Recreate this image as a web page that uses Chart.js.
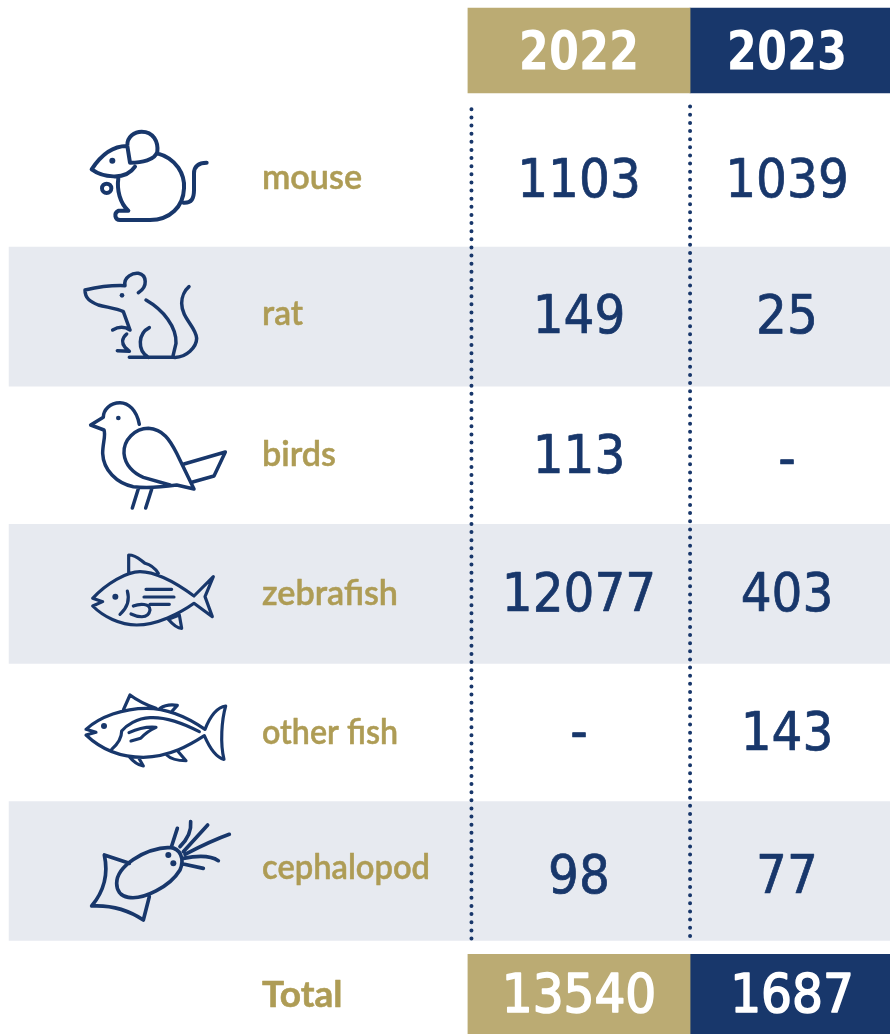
<!DOCTYPE html>
<html>
<head>
<meta charset="utf-8">
<style>
  html, body { margin: 0; padding: 0; background: #fff; }
  canvas { display: block; }
</style>
<script src="https://cdn.jsdelivr.net/npm/chart.js@4"></script>
</head>
<body>
<canvas id="table-chart" width="890" height="1034"></canvas>
<script>
const animals = ["mouse", "rat", "birds", "zebrafish", "other fish", "cephalopod"];
const years = ["2022", "2023"];
const values2022 = [1103, 149, 113, 12077, null, 98];
const values2023 = [1039, 25, null, 403, 143, 77];
const totals = [13540, 1687];

const GOLD = "#bbab73";
const LABEL_GOLD = "#ae9c55";
const NAVY = "#18376b";
const BAND = "#e7eaf0";
const NUM_FONT = '"DejaVu Sans Condensed", "DejaVu Sans", sans-serif';
const LABEL_FONT = 'Lato, "Noto Sans", sans-serif';

// columns and rows in table units: 2022 = 0, 2023 = 1, mouse = 0 ... cephalopod = 5
const HEADER_ROW = -0.92;
const TOTAL_ROW = 5.89;
const LABEL_COL = -1.524;
const COL_LEFT = -0.534, COL_MID = 0.534, COL_RIGHT = 1.495, BAND_LEFT = -2.74;

// small per row text shifts in px, the source table is not quite regular
const VALUE_NUDGE = [5, 2, 4, 3, 4, 8];
const VALUE_NUDGE_2023 = [5, 2, 8, 3, 4, 8];
const LABEL_NUDGE = [0, -3, 0, 0, 0, -3];
const LABEL_WIDTH = [100, 41, 74, 136, 136, 168];

// icon outlines, traced in a 3x crop of the row area
const ICONS = [
  { origin: 110, width: 12, dots: [[127, 152, 9]], path: "M170,108 C125,108 90,140 65,178 C95,200 165,215 195,170 M180,158 L172,108 C170,80 195,65 215,65 C250,65 265,95 262,125 C255,150 215,158 180,158 Z M124,235 A14,14 0 1 1 96,235 A14,14 0 1 1 124,235 Z M262,130 C320,145 345,195 342,235 C340,290 300,330 240,330 L150,330 C135,330 130,310 145,302 L175,302 M145,205 C140,240 150,280 175,302 M340,278 C365,280 372,265 372,240 L372,190 C372,170 385,158 410,158" },
  { origin: 110, width: 10.5, dots: [[156, 556, 7]], path: "M165,527 C120,525 80,532 45,540 C45,565 60,575 85,585 C110,592 140,595 160,605 L180,660 M165,527 C160,500 190,488 205,490 C230,495 235,530 205,548 M228,570 C280,600 320,650 318,700 L308,742 M238,653 C205,670 200,720 235,742 M178,742 L310,742 C350,745 380,710 380,685 C378,650 335,625 335,580 C335,560 345,540 357,530 M128,660 C145,650 165,650 180,660 M170,672 C155,685 155,700 165,712 L178,724 L142,722" },
  { origin: 390, width: 10.5, dots: [[145, 84, 7]], path: "M208,103 C200,60 175,38 150,38 C120,38 100,60 100,82 L62,105 L102,120 C108,135 98,160 98,190 C100,240 140,280 190,290 C230,295 270,292 320,285 L372,297 L320,190 C300,150 280,118 235,115 C195,115 160,150 162,190 C165,225 190,250 220,262 L300,285 M342,222 L466,186 L432,258 L368,276 M205,296 L187,354 M245,298 L227,354" },
  { origin: 390, width: 9.5, dots: [[136, 620, 9]], path: "M68,625 C110,580 170,545 210,545 C260,545 320,580 372,618 L430,560 L405,620 L427,680 L372,640 C330,670 260,705 200,705 C150,705 100,680 68,648 L98,635 Z M176,548 L176,495 C200,495 210,510 225,520 C245,525 255,535 265,550 M295,688 L328,675 L335,715 C320,715 305,700 295,688 M172,603 C180,630 170,655 150,673 M183,672 C200,680 235,690 240,660 C240,640 210,640 190,648 M228,598 L305,598 M222,621 L312,621 M240,643 L298,643" },
  { origin: 670, width: 9.5, dots: [[102, 168, 9]], path: "M48,178 C90,140 160,115 230,115 C290,115 350,140 405,178 C420,140 440,112 467,108 C455,150 450,220 462,268 C435,262 415,225 403,197 C360,225 300,260 220,262 C150,262 90,235 48,195 L78,187 Z M160,120 L180,75 C200,90 230,105 258,115 M270,115 C285,105 305,103 322,106 L305,125 M388,185 C340,160 290,140 240,143 C200,145 170,165 155,183 C155,205 140,225 125,238 M177,188 C205,175 235,170 258,172 C240,180 225,190 212,205 L183,213 M178,260 C190,275 205,285 220,288 L205,262 M290,255 C305,270 325,272 348,272 L325,245" },
  { origin: 670, width: 11, dots: [[295, 555, 9], [310, 580, 9]], path: "M140,640 C140,590 220,535 300,532 C330,535 345,565 330,600 C300,650 220,690 175,682 C150,678 140,660 140,640 Z M178,580 L103,555 C115,610 105,660 65,708 C120,705 175,720 220,750 L238,680 M305,528 L322,475 M330,530 C350,510 365,485 362,455 M340,545 L413,465 M345,553 C390,530 430,510 478,493 M340,565 C375,558 420,555 445,572 M340,582 L400,595" }
];

function band(row, from, to, color, thickness) {
  return { type: "bar", indexAxis: "y", grouped: false, order: 10, backgroundColor: color,
    barThickness: thickness, data: [{ x: [from, to], y: row }] };
}

function dotted(col, fromRow) {
  return { type: "line", order: 5, borderColor: NAVY, borderWidth: 4, borderCapStyle: "round",
    borderDash: [0, 8.13], pointRadius: 0, data: [{ x: col, y: fromRow }, { x: col, y: 5.5 }] };
}

// invisible points that carry the table cells, their text is drawn by the plugin below
function cells(points, style) {
  return Object.assign({ type: "scatter", order: 1, pointRadius: 0, data: points, cell: true,
    align: "center", stretch: 1, bold: 0 }, style);
}

const cellText = {
  id: "cellText",
  afterDatasetsDraw(chart) {
    const ctx = chart.ctx;
    chart.data.datasets.forEach((ds, i) => {
      if (!ds.cell) return;
      chart.getDatasetMeta(i).data.forEach((pt, j) => {
        const d = ds.data[j];
        ctx.save();
        ctx.translate(pt.x + (d.dx || 0), pt.y + (d.dy || 0));
        ctx.scale(ds.stretch, 1);
        ctx.font = ds.font;
        ctx.fillStyle = ds.color;
        ctx.textAlign = ds.align;
        ctx.textBaseline = "middle";
        ctx.fillText(d.text, 0, 0, d.maxWidth);
        if (ds.bold) {
          ctx.strokeStyle = ds.color;
          ctx.lineWidth = ds.bold;
          ctx.lineJoin = "round";
          ctx.strokeText(d.text, 0, 0, d.maxWidth);
        }
        ctx.restore();
      });
    });
  }
};

const iconDraw = {
  id: "iconDraw",
  afterDatasetsDraw(chart) {
    const ctx = chart.ctx;
    ICONS.forEach(icon => {
      ctx.save();
      ctx.translate(70, icon.origin);
      ctx.scale(1 / 3, 1 / 3);
      ctx.strokeStyle = NAVY;
      ctx.fillStyle = NAVY;
      ctx.lineWidth = icon.width;
      ctx.lineCap = "round";
      ctx.lineJoin = "round";
      ctx.stroke(new Path2D(icon.path));
      icon.dots.forEach(d => {
        ctx.beginPath();
        ctx.arc(d[0], d[1], d[2], 0, Math.PI * 2);
        ctx.fill();
      });
      ctx.restore();
    });
  }
};

const show = v => v === null ? "-" : String(v);
const valueStyle = { font: "54px " + NUM_FONT, color: NAVY, bold: 0.7 };

new Chart(document.getElementById("table-chart"), {
  type: "scatter",
  data: {
    datasets: [
      band(1, BAND_LEFT, COL_RIGHT, BAND, 139),
      band(3, BAND_LEFT, COL_RIGHT, BAND, 139),
      band(5, BAND_LEFT, COL_RIGHT, BAND, 139),
      band(HEADER_ROW, COL_LEFT, COL_MID, GOLD, 85),
      band(HEADER_ROW, COL_MID, COL_RIGHT, NAVY, 85),
      band(TOTAL_ROW, COL_LEFT, COL_MID, GOLD, 80),
      band(TOTAL_ROW, COL_MID, COL_RIGHT, NAVY, 80),
      dotted(-0.517, -0.496),
      dotted(COL_MID, -0.515),
      cells(values2022.map((v, i) => ({ x: 0, y: i, dy: VALUE_NUDGE[i], text: show(v) })), valueStyle),
      cells(values2023.map((v, i) => ({ x: 1, y: i, dy: VALUE_NUDGE_2023[i], text: show(v) })), valueStyle),
      cells(animals.map((a, i) => ({ x: LABEL_COL, y: i, dy: LABEL_NUDGE[i], maxWidth: LABEL_WIDTH[i], text: a })),
        { font: "600 35px " + LABEL_FONT, color: LABEL_GOLD, align: "left", bold: 0.5 }),
      cells([{ x: LABEL_COL, y: TOTAL_ROW, dy: 1, text: "Total" }],
        { font: "700 37px " + LABEL_FONT, color: LABEL_GOLD, align: "left", bold: 0.6 }),
      cells(years.map((y, i) => ({ x: i, y: HEADER_ROW, dy: 4, text: y })),
        { font: "bold 54px " + NUM_FONT, color: "#fff", stretch: 0.89 }),
      cells(totals.map((v, i) => ({ x: i, y: TOTAL_ROW, dy: 4, dx: i * 5, text: String(v) })),
        { font: "54px " + NUM_FONT, color: "#fff", bold: 1.6 })
    ]
  },
  options: {
    responsive: false,
    animation: false,
    layout: { padding: 0 },
    events: [],
    scales: {
      x: { type: "linear", display: false, offset: false, min: -579 / 208, max: 311 / 208 },
      y: { type: "linear", display: false, offset: false, reverse: true, min: -178 / 138.6, max: 856 / 138.6 }
    },
    plugins: { legend: { display: false }, tooltip: { enabled: false } }
  },
  plugins: [cellText, iconDraw]
});
</script>
</body>
</html>
